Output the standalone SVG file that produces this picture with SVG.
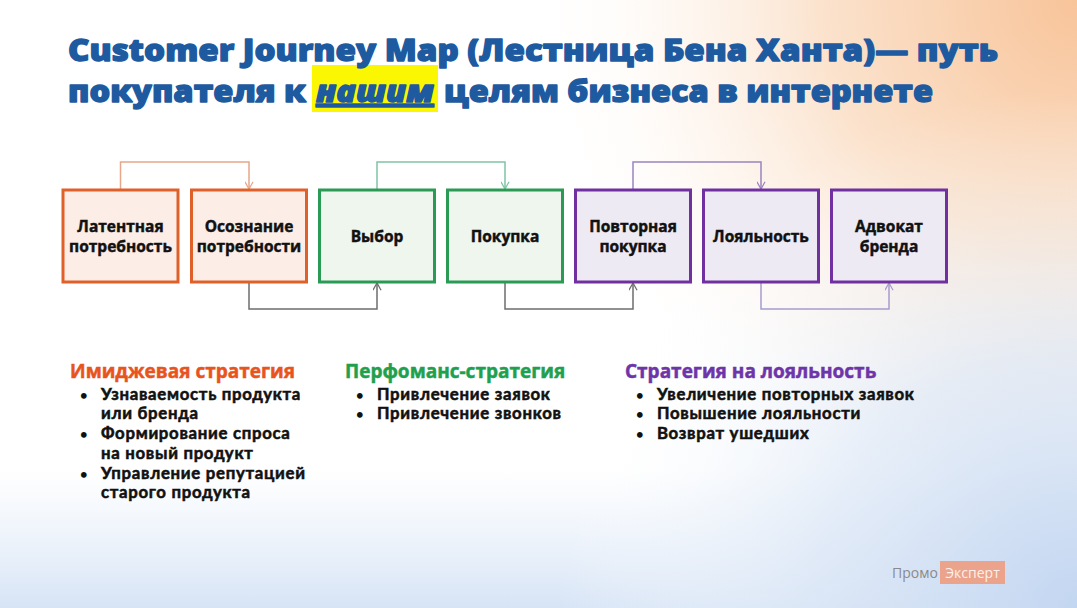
<svg xmlns="http://www.w3.org/2000/svg" width="1077" height="608" viewBox="0 0 1077 608">
<defs>
<radialGradient id="peach" cx="1077" cy="0" r="560" gradientUnits="userSpaceOnUse">
<stop offset="0" stop-color="#f8c49a"/>
<stop offset="0.45" stop-color="#fbe2cc"/>
<stop offset="1" stop-color="#ffffff" stop-opacity="0"/>
</radialGradient>
<linearGradient id="blueb" x1="0" y1="470" x2="0" y2="608" gradientUnits="userSpaceOnUse">
<stop offset="0" stop-color="#dde8f7" stop-opacity="0"/>
<stop offset="1" stop-color="#d2e1f5" stop-opacity="0.9"/>
</linearGradient>
<radialGradient id="blueR" cx="1077" cy="608" r="520" gradientUnits="userSpaceOnUse">
<stop offset="0" stop-color="#c3d6f1"/>
<stop offset="0.5" stop-color="#dce7f6" stop-opacity="0.7"/>
<stop offset="1" stop-color="#ffffff" stop-opacity="0"/>
</radialGradient>
<marker id="aO" viewBox="0 0 10 10" refX="9" refY="5" markerWidth="9" markerHeight="9" markerUnits="userSpaceOnUse" orient="auto"><path d="M1,0.5 L9,5 L1,9.5" fill="none" stroke="#e8a68a" stroke-width="1.4"/></marker>
<marker id="aG" viewBox="0 0 10 10" refX="9" refY="5" markerWidth="9" markerHeight="9" markerUnits="userSpaceOnUse" orient="auto"><path d="M1,0.5 L9,5 L1,9.5" fill="none" stroke="#7fc4a4" stroke-width="1.4"/></marker>
<marker id="aP" viewBox="0 0 10 10" refX="9" refY="5" markerWidth="9" markerHeight="9" markerUnits="userSpaceOnUse" orient="auto"><path d="M1,0.5 L9,5 L1,9.5" fill="none" stroke="#9a84c0" stroke-width="1.4"/></marker>
<marker id="aK" viewBox="0 0 10 10" refX="9" refY="5" markerWidth="9" markerHeight="9" markerUnits="userSpaceOnUse" orient="auto"><path d="M1,0.5 L9,5 L1,9.5" fill="none" stroke="#6e6e6e" stroke-width="1.4"/></marker>
<marker id="aL" viewBox="0 0 10 10" refX="9" refY="5" markerWidth="9" markerHeight="9" markerUnits="userSpaceOnUse" orient="auto"><path d="M1,0.5 L9,5 L1,9.5" fill="none" stroke="#a89ccc" stroke-width="1.4"/></marker>
</defs>
<style>
.title{font-family:"Open Sans","Liberation Sans",sans-serif;font-weight:800;font-size:30px;fill:#1d5aa0;stroke:#1d5aa0;stroke-width:1.3px;stroke-linejoin:round}
.box{stroke-width:3}
.or{fill:#fcede7;stroke:#e0602a}
.gr{fill:#eef6ee;stroke:#2a9a55}
.pu{fill:#eeeaf4;stroke:#7030a0}
.lbl{font-family:"Open Sans","Liberation Sans",sans-serif;font-weight:700;font-size:15.5px;fill:#111;stroke:#111;stroke-width:0.45px;text-anchor:middle}
.h{font-family:"Open Sans","Liberation Sans",sans-serif;font-weight:700;font-size:19px;stroke-width:0.5px}
.it{font-family:Lato,"Open Sans",sans-serif;font-weight:700;font-size:16.8px;letter-spacing:0.7px;fill:#111;stroke:#111;stroke-width:0.55px}
.bul{font-family:Lato,"Open Sans",sans-serif;font-weight:700;font-size:13px;fill:#111}
.c{fill:none;stroke-width:1.5}
</style>
<rect width="1077" height="608" fill="#ffffff"/>
<rect width="1077" height="608" fill="url(#peach)"/>
<rect width="1077" height="608" fill="url(#blueb)"/>
<rect width="1077" height="608" fill="url(#blueR)"/>

<g id="title">
<rect x="312" y="65" width="126" height="47" fill="#fbf703"/>
<text class="title" x="68" y="61" textLength="930" lengthAdjust="spacingAndGlyphs">Customer Journey Map (Лестница Бена Ханта)— путь</text>
<text class="title" x="68" y="102" textLength="238" lengthAdjust="spacingAndGlyphs">покупателя к</text>
<text class="title" x="316" y="102" font-style="italic" text-decoration="underline" textLength="118" lengthAdjust="spacingAndGlyphs">нашим</text>
<text class="title" x="444" y="102" textLength="489" lengthAdjust="spacingAndGlyphs">целям бизнеса в интернете</text>
</g>

<g id="connectors">
<path class="c" stroke="#e8a68a" d="M120.5,190 V162 H249 V189" marker-end="url(#aO)"/>
<path class="c" stroke="#7fc4a4" d="M377,190 V162 H505 V189" marker-end="url(#aG)"/>
<path class="c" stroke="#9a84c0" d="M633,190 V162 H761 V189" marker-end="url(#aP)"/>
<path class="c" stroke="#6e6e6e" d="M249,282 V309 H377 V283" marker-end="url(#aK)"/>
<path class="c" stroke="#6e6e6e" d="M505,282 V309 H633 V283" marker-end="url(#aK)"/>
<path class="c" stroke="#a89ccc" d="M761,282 V309 H889 V283" marker-end="url(#aL)"/>
</g>

<g id="n1"><rect class="box or" x="63" y="190" width="115" height="92"/><text class="lbl" x="120.5" y="232">Латентная</text><text class="lbl" x="120.5" y="252">потребность</text></g>
<g id="n2"><rect class="box or" x="191.5" y="190" width="115" height="92"/><text class="lbl" x="249" y="232">Осознание</text><text class="lbl" x="249" y="252">потребности</text></g>
<g id="n3"><rect class="box gr" x="319.5" y="190" width="115" height="92"/><text class="lbl" x="377" y="242">Выбор</text></g>
<g id="n4"><rect class="box gr" x="447.5" y="190" width="115" height="92"/><text class="lbl" x="505" y="242">Покупка</text></g>
<g id="n5"><rect class="box pu" x="575.5" y="190" width="115" height="92"/><text class="lbl" x="633" y="232">Повторная</text><text class="lbl" x="633" y="252">покупка</text></g>
<g id="n6"><rect class="box pu" x="703.5" y="190" width="115" height="92"/><text class="lbl" x="761" y="242">Лояльность</text></g>
<g id="n7"><rect class="box pu" x="831.5" y="190" width="115" height="92"/><text class="lbl" x="889" y="232">Адвокат</text><text class="lbl" x="889" y="252">бренда</text></g>

<g id="s1">
<text class="h" x="70" y="377.5" fill="#e8541e" stroke="#e8541e">Имиджевая стратегия</text>
<text class="bul" x="80" y="399.5">•<tspan x="80" y="439">•</tspan><tspan x="80" y="478.5">•</tspan></text>
<text class="it" x="101" y="399.5">Узнаваемость продукта<tspan x="101" y="419.2">или бренда</tspan><tspan x="101" y="439">Формирование спроса</tspan><tspan x="101" y="458.7">на новый продукт</tspan><tspan x="101" y="478.5">Управление репутацией</tspan><tspan x="101" y="498.2">старого продукта</tspan></text>
</g>
<g id="s2">
<text class="h" x="345" y="377.5" fill="#1fa04e" stroke="#1fa04e">Перфоманс-стратегия</text>
<text class="bul" x="356" y="399.5">•<tspan x="356" y="419.2">•</tspan></text>
<text class="it" x="377" y="399.5">Привлечение заявок<tspan x="377" y="419.2">Привлечение звонков</tspan></text>
</g>
<g id="s3">
<text class="h" x="625" y="377.5" fill="#6e35a8" stroke="#6e35a8">Стратегия на лояльность</text>
<text class="bul" x="636" y="399.5">•<tspan x="636" y="419.2">•</tspan><tspan x="636" y="439">•</tspan></text>
<text class="it" x="657" y="399.5">Увеличение повторных заявок<tspan x="657" y="419.2">Повышение лояльности</tspan><tspan x="657" y="439">Возврат ушедших</tspan></text>
</g>

<g id="logo">
<text x="892" y="578" font-family="'Open Sans','Liberation Sans',sans-serif" font-size="14" fill="#8a8a8a">Промо</text>
<rect x="940" y="561" width="65" height="23" fill="#eba38c"/>
<text x="972.5" y="578" font-family="'Open Sans','Liberation Sans',sans-serif" font-size="14" fill="#fdf0ea" text-anchor="middle">Эксперт</text>
</g>
</svg>
